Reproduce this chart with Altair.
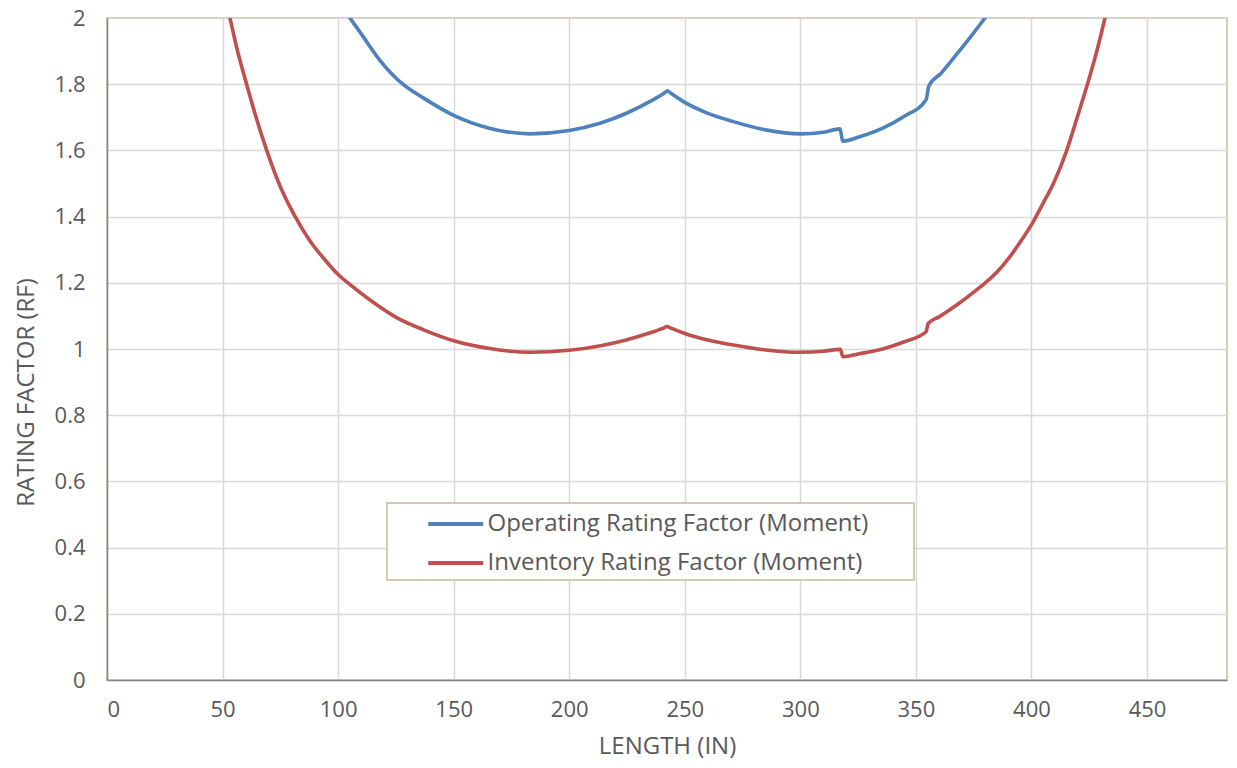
import altair as alt
import pandas as pd

# ---- data ----
series_names = ["Operating Rating Factor (Moment)", "Inventory Rating Factor (Moment)"]
series_colors = ["#4F81BD", "#C0504D"]

op_length = [105.1, 110, 118, 128, 137, 150, 165, 183, 200, 213.3, 225, 235, 241.3, 242.5, 243.7,
             250, 260, 271, 285, 300.3, 310, 317.2, 318.3, 326, 335.9, 345, 354.4, 355.6,
             361, 367.6, 374, 379.9]
op_rf = [2.00, 1.952, 1.873, 1.80, 1.758, 1.706, 1.668, 1.650, 1.660, 1.682, 1.713, 1.748, 1.774, 1.780, 1.774,
         1.745, 1.712, 1.687, 1.662, 1.650, 1.655, 1.665, 1.628, 1.642, 1.668, 1.703, 1.753, 1.795,
         1.834, 1.89, 1.946, 2.00]

inv_length = [53.2, 56.5, 60.4, 64.5, 69.1, 75, 81.4, 88, 94, 100, 106, 115, 125.3, 137, 150, 165, 183,
              200, 213, 225, 235, 241, 242.3, 243.5, 250, 260, 271, 285, 300, 310, 317.3, 318.4, 325, 336, 345,
              354.4, 355.3, 360, 365, 370, 375, 380, 385, 390.7, 395, 400.8, 405, 409.5, 415.3, 419.8, 424,
              428.2, 431.8]
inv_rf = [2.00, 1.90, 1.80, 1.70, 1.60, 1.49, 1.40, 1.325, 1.272, 1.225, 1.19, 1.142, 1.095, 1.058, 1.025, 1.002, 0.990,
          0.996, 1.009, 1.028, 1.049, 1.064, 1.068, 1.0645, 1.047, 1.027, 1.012, 0.997, 0.990, 0.993, 0.999, 0.977,
          0.985, 1.001, 1.022, 1.052, 1.077, 1.097, 1.12, 1.145, 1.172, 1.20, 1.232, 1.279, 1.322, 1.385, 1.44,
          1.50, 1.601, 1.70, 1.795, 1.898, 2.00]

x_ticks = [0, 50, 100, 150, 200, 250, 300, 350, 400, 450]
y_ticks = [0, 0.2, 0.4, 0.6, 0.8, 1, 1.2, 1.4, 1.6, 1.8, 2]

df = pd.concat([
    pd.DataFrame({"length": op_length, "rf": op_rf, "series": series_names[0],
                  "order": list(range(len(op_length)))}),
    pd.DataFrame({"length": inv_length, "rf": inv_rf, "series": series_names[1],
                  "order": list(range(len(inv_length)))}),
], ignore_index=True)

FONT = "Open Sans"
TXT = "#595959"

chart = alt.Chart(df).mark_line(strokeWidth=3.6, clip=True, interpolate="monotone",
                                strokeCap="round", strokeJoin="round").encode(
    x=alt.X("length:Q",
            scale=alt.Scale(domain=[0, 484.6], nice=False, zero=False),
            axis=alt.Axis(values=x_ticks, title="LENGTH (IN)", ticks=False, labelPadding=19,
                          titleY=73, titleBaseline="alphabetic", format="d")),
    y=alt.Y("rf:Q",
            scale=alt.Scale(domain=[0, 2], nice=False),
            axis=alt.Axis(values=y_ticks, title="RATING FACTOR (RF)", ticks=False, labelPadding=22,
                          format="~g", titleX=-74, titleY=374, titleAngle=270,
                          titleAlign="center", titleBaseline="alphabetic")),
    color=alt.Color("series:N",
                    scale=alt.Scale(domain=series_names, range=series_colors),
                    legend=alt.Legend(orient="none", legendX=280, legendY=485,
                                      title="\u00a0", titleOrient="right", titlePadding=41,
                                      titleFontSize=24,
                                      symbolType="M-2,0H2", symbolSize=756, symbolStrokeWidth=4,
                                      symbolOffset=47.75, labelOffset=15.75,
                                      labelFont=FONT, labelFontSize=24, labelColor=TXT,
                                      labelLimit=700, rowPadding=11, padding=5,
                                      fillColor="white", strokeColor="#C4BD97")),
    order="order:Q",
).properties(
    width=1120, height=662,
    autosize=alt.AutoSizeParams(type="none"),
    padding={"left": 99, "top": 10, "right": 2, "bottom": 80},
).configure_axis(
    labelFont=FONT, labelFontSize=22, labelColor=TXT,
    titleFont=FONT, titleFontSize=24, titleColor=TXT, titleFontWeight="normal",
    gridColor="#D9D9D9", gridWidth=1.5,
    domainColor="#868686", domainWidth=1.5,
).configure_legend(
    strokeWidth=1.5,
).configure_view(
    stroke="#C4BD97", strokeWidth=1.5,
)

chart.save("out.html", embed_options={"renderer": "svg", "actions": False})
